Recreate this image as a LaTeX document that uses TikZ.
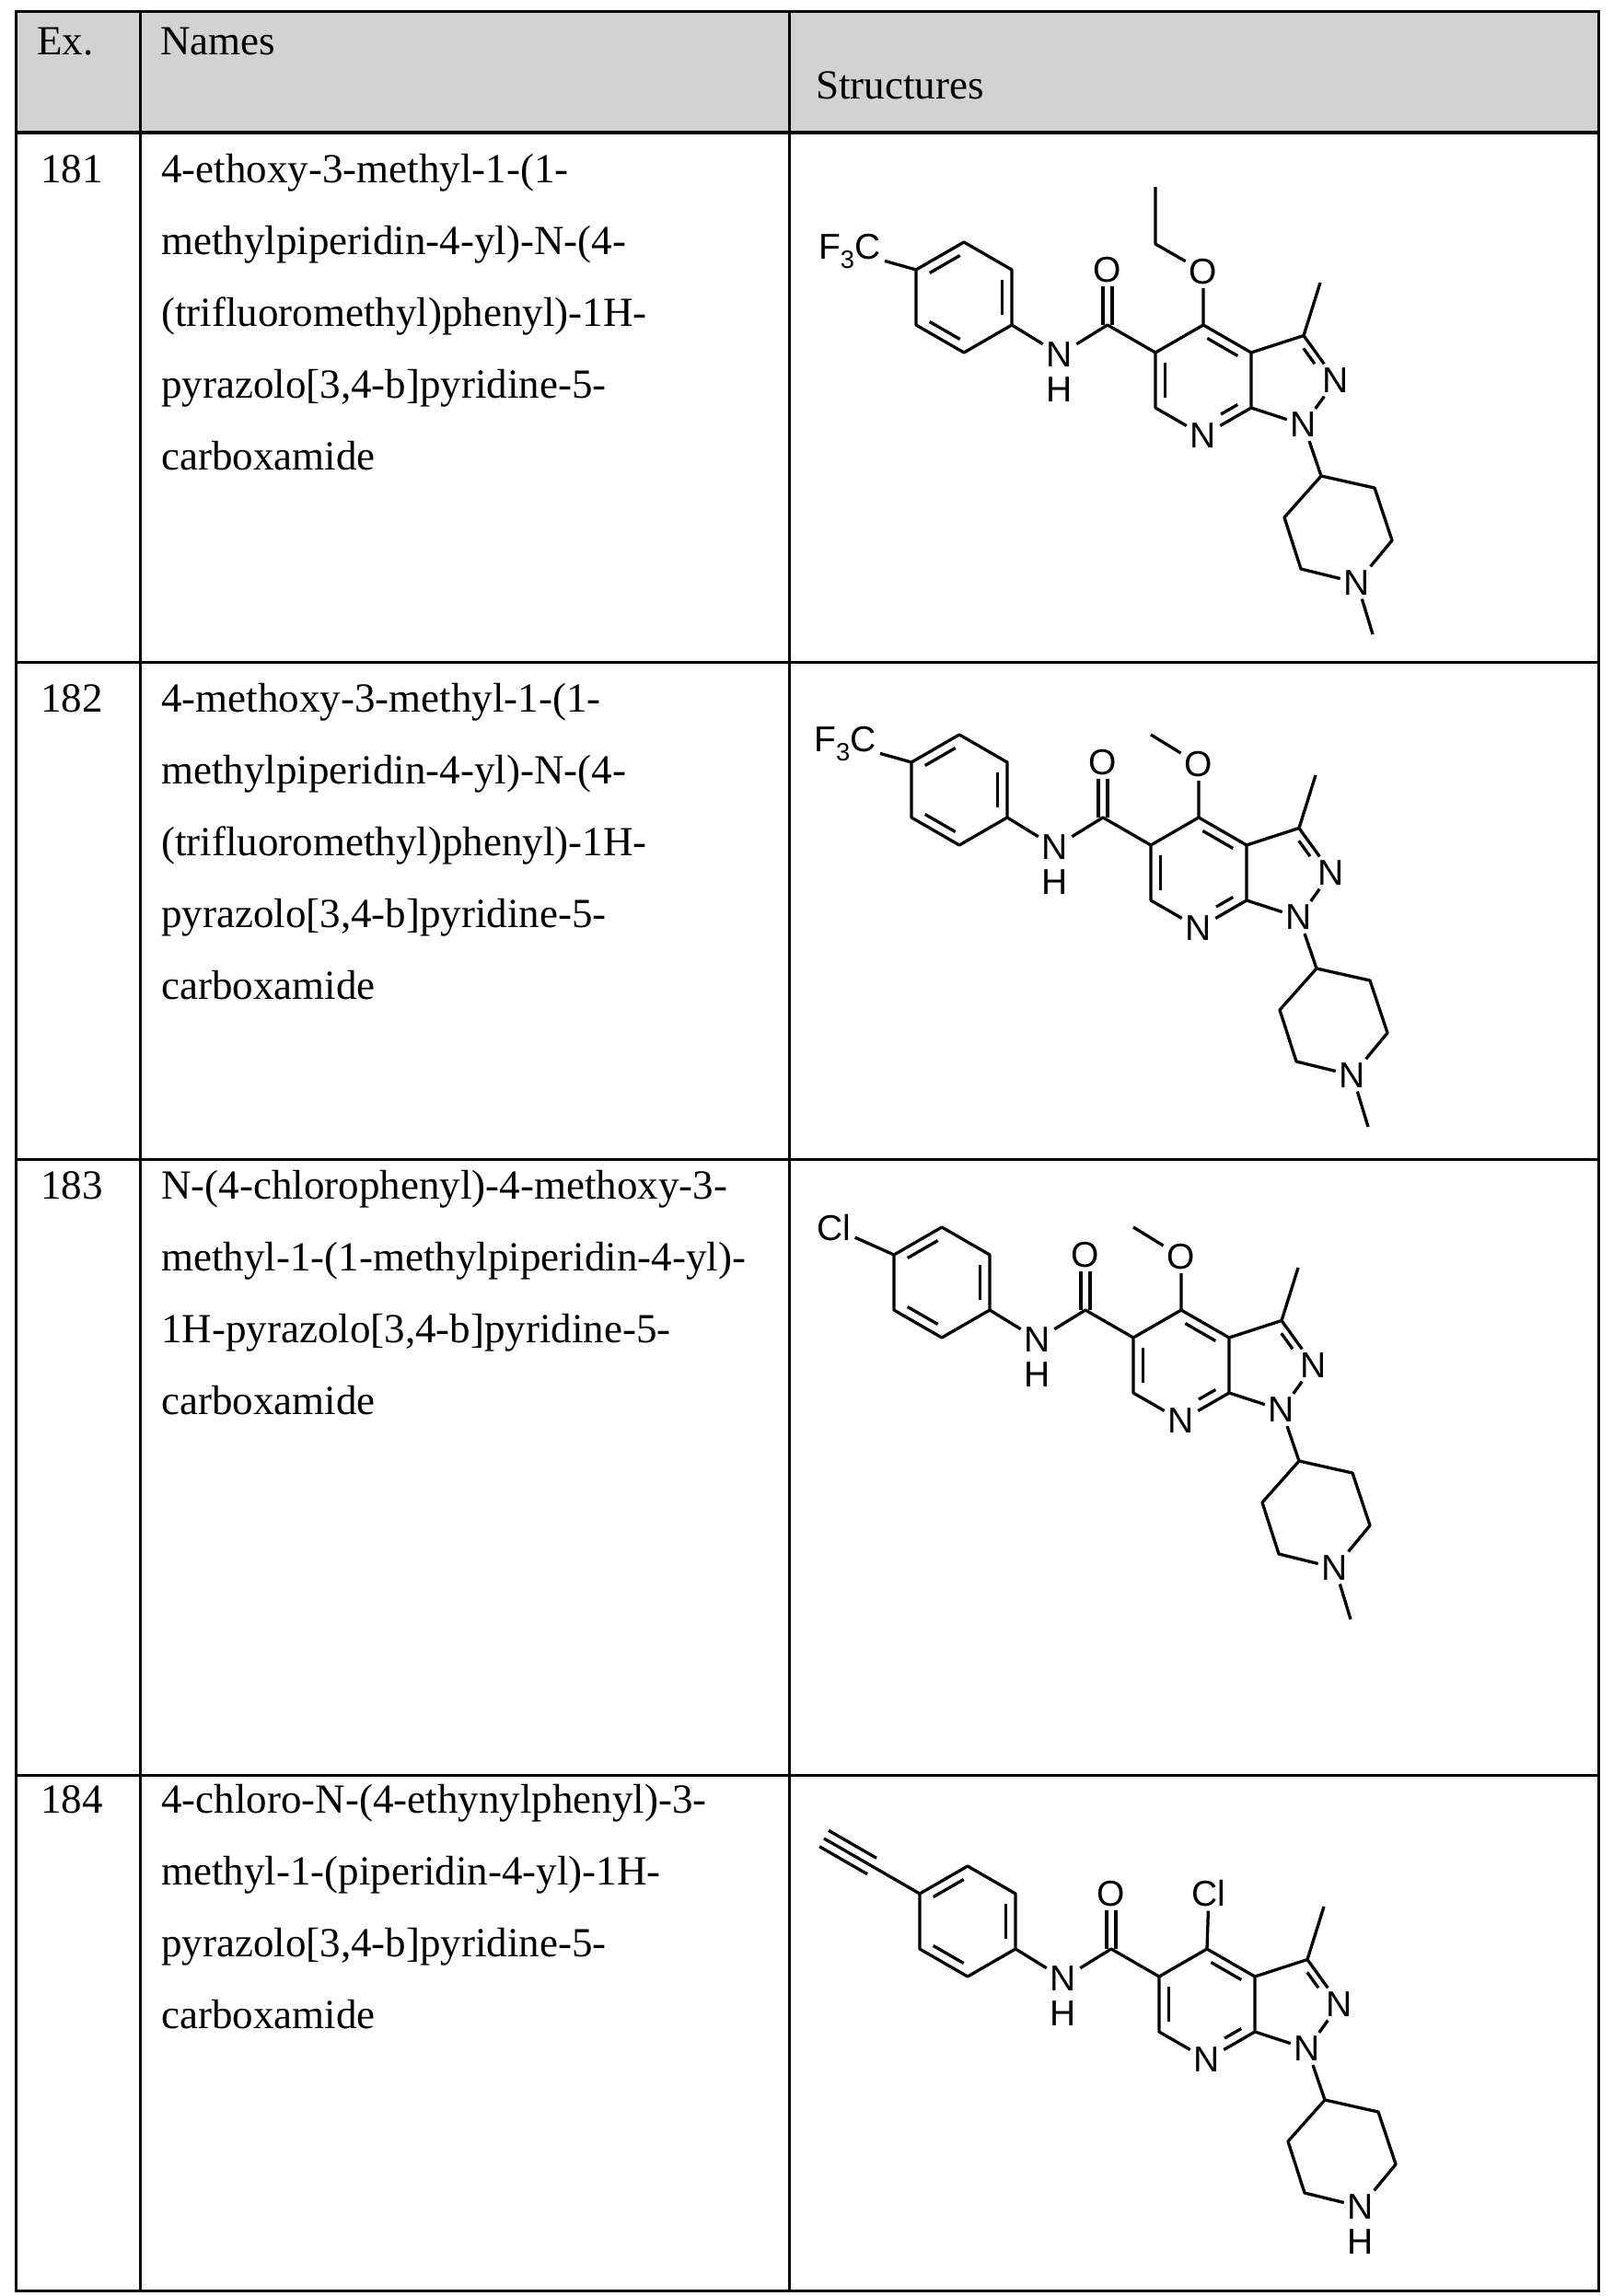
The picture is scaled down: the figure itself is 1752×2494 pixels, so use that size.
\documentclass[tikz,border=0pt]{standalone}
\usepackage{fontspec}
\setmainfont{Liberation Serif}
\newfontfamily\atomfam{Liberation Sans}
\usetikzlibrary{calc}
\tikzset{
  atom/.style={font=\atomfam\fontsize{39}{45}\selectfont, inner sep=4pt},
  bond/.style={line width=3.3pt, line join=round},
  inner/.style={line width=3.3pt, shorten <=5pt, shorten >=5pt},
  txt/.style={font=\fontsize{45}{54}\selectfont, inner sep=0pt, anchor=base west},
  grid/.style={line width=3pt},
}
\newcommand\dbl[3]{\draw[inner] ($(#1)!0.2!(#3)$) -- ($(#2)!0.2!(#3)$);}
\newcommand\core{%
  \coordinate (Cc) at (0,0);
  \node[atom] (Oa) at (0,-60) {O};
  \node[atom] (Na) at (-52,32) {N};
  \node[atom] (Ha) at (-52,70) {H};
  \coordinate (b1) at (-104,0); \coordinate (b2) at (-104,-60);
  \coordinate (b3) at (-156,-90); \coordinate (b4) at (-208,-60);
  \coordinate (b5) at (-208,0); \coordinate (b6) at (-156,30);
  \coordinate (bc) at (-156,-30);
  \draw[bond] (b1)--(b2)--(b3)--(b4)--(b5)--(b6)--cycle;
  \dbl{b1}{b2}{bc}\dbl{b3}{b4}{bc}\dbl{b5}{b6}{bc}
  \draw[bond] (b1)--(Na)--(Cc)--(52,30);
  \draw[bond] ([xshift=-5pt]Cc) -- ([xshift=-5pt]Oa.south);
  \draw[bond] ([xshift=5pt]Cc) -- ([xshift=5pt]Oa.south);
  \coordinate (p5) at (52,30); \coordinate (p4) at (104,0);
  \coordinate (p3a) at (156,30); \coordinate (p7a) at (156,90);
  \coordinate (p6) at (52,90); \coordinate (pc) at (104,60);
  \coordinate (n7c) at (104,120);
  \node[atom] (N7) at (104,120) {N};
  \draw[bond] (N7)--(p6)--(p5)--(p4)--(p3a)--(p7a)--(N7);
  \dbl{p5}{p6}{pc}\dbl{p4}{p3a}{pc}
  \draw[inner, shorten <=22pt] ($(n7c)!0.2!(pc)$) -- ($(p7a)!0.2!(pc)$);
  \coordinate (c3) at (213,11.5); \coordinate (zc) at (197,60);
  \coordinate (n2c) at (248,60);
  \node[atom] (N2) at (248,60) {N};
  \node[atom] (N1) at (213,108.5) {N};
  \draw[bond] (p3a)--(c3)--(N2)--(N1)--(p7a);
  \draw[inner, shorten >=22pt] ($(c3)!0.2!(zc)$) -- ($(n2c)!0.2!(zc)$);
  \draw[bond] (c3)--(231,-46);
  \coordinate (q1) at (232,164); \coordinate (q2) at (290,177);
  \coordinate (q3) at (309,234); \coordinate (q5) at (210,265);
  \coordinate (q6) at (192,209);
  \node[atom] (Nq) at (271,280) {N};
  \draw[bond] (N1)--(q1)--(q2)--(q3)--(Nq)--(q5)--(q6)--(q1);
}
\begin{document}
\begin{tikzpicture}[x=1pt,y=-1pt]
\useasboundingbox (0,0) rectangle (1752,2494);
\fill[white] (0,0) rectangle (1752,2494);
% table
\fill[gray!35] (17,13) rectangle (1736,144);
\draw[grid] (17,13) rectangle (1736,2488);
\draw[grid] (152,13) -- (152,2488);
\draw[grid] (857,13) -- (857,2488);
\draw[line width=4pt] (17,144) -- (1736,144);
\draw[grid] (17,719) -- (1736,719);
\draw[grid] (17,1259) -- (1736,1259);
\draw[grid] (17,1928) -- (1736,1928);
\node[txt] (hex) at (40,60) {Ex.};
\node[txt] (hname) at (174,60) {Names};
\node[txt] (hstruct) at (886,108) {Structures};
% row texts
\node[txt] (e181) at (44,198) {181};
\node[txt] (e182) at (44,773) {182};
\node[txt] (e183) at (44,1302) {183};
\node[txt] (e184) at (44,1969) {184};
\foreach \t [count=\i] in {{4-ethoxy-3-methyl-1-(1-},{methylpiperidin-4-yl)-N-(4-},{(trifluoromethyl)phenyl)-1H-},{pyrazolo[3,4-b]pyridine-5-},{carboxamide}}
  \node[txt] (a\i) at (175,198+78*\i-78) {\t};
\foreach \t [count=\i] in {{4-methoxy-3-methyl-1-(1-},{methylpiperidin-4-yl)-N-(4-},{(trifluoromethyl)phenyl)-1H-},{pyrazolo[3,4-b]pyridine-5-},{carboxamide}}
  \node[txt] (b\i) at (175,773+78*\i-78) {\t};
\foreach \t [count=\i] in {{N-(4-chlorophenyl)-4-methoxy-3-},{methyl-1-(1-methylpiperidin-4-yl)-},{1H-pyrazolo[3,4-b]pyridine-5-},{carboxamide}}
  \node[txt] (c\i) at (175,1302+78*\i-78) {\t};
\foreach \t [count=\i] in {{4-chloro-N-(4-ethynylphenyl)-3-},{methyl-1-(piperidin-4-yl)-1H-},{pyrazolo[3,4-b]pyridine-5-},{carboxamide}}
  \node[txt] (d\i) at (175,1969+78*\i-78) {\t};
% 181
\begin{scope}[shift={(1203,353)}]
  \core
  \node[atom,anchor=base] (cf) at (-280,-72) {F\textsubscript{3}C};
  \draw[bond] (b4)--(cf);
  \node[atom] (Oe) at (104,-58) {O};
  \draw[bond] (p4)--(Oe)--(52,-88)--(52,-150);
  \draw[bond] (Nq)--(288,336);
\end{scope}
% 182
\begin{scope}[shift={(1198,888)}]
  \core
  \node[atom,anchor=base] (cf) at (-280,-72) {F\textsubscript{3}C};
  \draw[bond] (b4)--(cf);
  \node[atom] (Oe) at (104,-58) {O};
  \draw[bond] (p4)--(Oe)--(52,-90);
  \draw[bond] (Nq)--(288,336);
\end{scope}
% 183
\begin{scope}[shift={(1179,1423)}]
  \core
  \node[atom] (cl) at (-273,-89) {Cl};
  \draw[bond] (b4)--(cl);
  \node[atom] (Oe) at (104,-58) {O};
  \draw[bond] (p4)--(Oe)--(52,-90);
  \draw[bond] (Nq)--(288,336);
\end{scope}
% 184
\begin{scope}[shift={(1207,2117)}]
  \core
  \coordinate (e2) at (-312,-120);
  \draw[bond] (b4)--(e2);
  \draw[bond] (-255,-98.7)--(-307,-128.7);
  \draw[bond] (-265,-81.3)--(-317,-111.3);
  \node[atom] (cl) at (106,-60) {Cl};
  \draw[bond] (p4)--(cl);
  \node[atom] (Hq) at (271,318) {H};
\end{scope}
\end{tikzpicture}
\end{document}
